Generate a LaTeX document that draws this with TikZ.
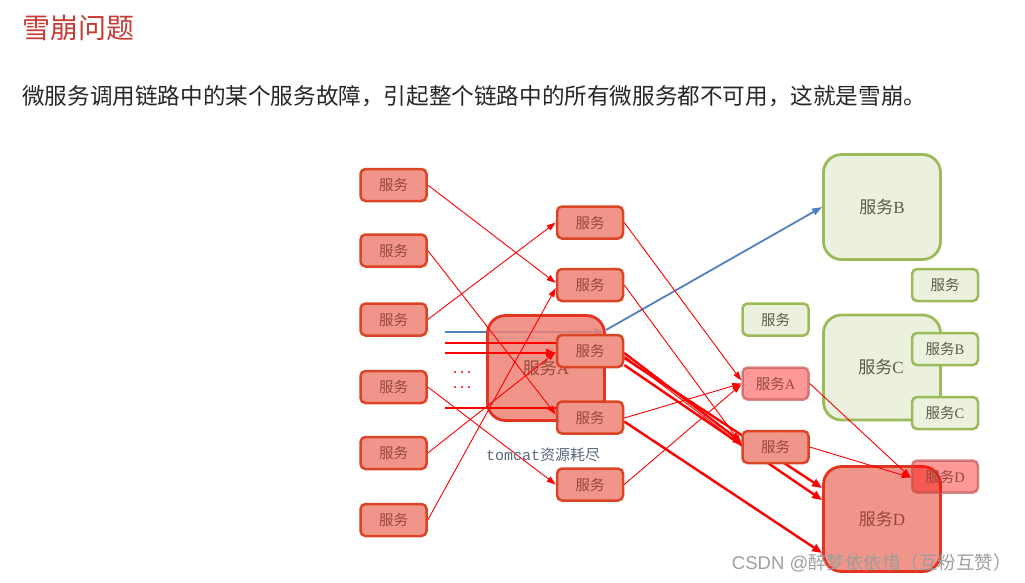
\documentclass[tikz,border=0pt]{standalone}
\usepackage{fontspec}
\setmainfont{Liberation Serif}
\newfontfamily\cjk{Noto Sans CJK SC}
\newfontfamily\wmsans{Liberation Sans}
\usetikzlibrary{arrows.meta,calc}
\definecolor{rf}{RGB}{241,148,138}
\definecolor{rfa}{RGB}{238,129,117}
\definecolor{rb}{RGB}{218,69,37}
\definecolor{rbig}{RGB}{228,52,32}
\definecolor{rt}{RGB}{150,72,58}
\definecolor{gf}{RGB}{235,241,222}
\definecolor{gb}{RGB}{155,187,89}
\definecolor{gt}{RGB}{88,92,72}
\definecolor{pb}{RGB}{192,80,77}
\definecolor{bl}{RGB}{79,129,189}
\definecolor{titlec}{RGB}{200,58,52}
\definecolor{tomc}{RGB}{88,104,124}
\pgfdeclarelayer{l0}\pgfdeclarelayer{l1}\pgfdeclarelayer{l2}\pgfdeclarelayer{l4}
\pgfsetlayers{l0,l1,l2,main,l4}
\tikzset{
  smallfont/.style={font=\fontsize{14.5}{16}\selectfont},
  bigfont/.style={font=\fontsize{17}{20}\selectfont},
  redbox/.style={draw=rb, fill=rf, line width=2.5pt, rounded corners=5pt,
    minimum width=66pt, minimum height=32pt, inner sep=0pt, text=rt, smallfont},
  pinkbox/.style={draw=pb, draw opacity=0.65, fill=red, fill opacity=0.4, text opacity=1,
    line width=2.5pt, rounded corners=5pt, minimum width=66pt, minimum height=32pt,
    inner sep=0pt, text=rt, smallfont},
  greenbox/.style={draw=gb, fill=gf, line width=2.5pt, rounded corners=5pt,
    minimum width=66pt, minimum height=32pt, inner sep=0pt, text=gt, smallfont},
  biggreen/.style={draw=gb, fill=gf, line width=2.8pt, rounded corners=18pt,
    minimum width=117pt, minimum height=105pt, inner sep=0pt, text=gt, bigfont},
  bigred/.style={draw=rbig, fill=rf, line width=2.8pt, rounded corners=18pt,
    minimum width=117pt, minimum height=105pt, inner sep=0pt, text=rt, bigfont},
  thin/.style={draw=red, line width=0.9pt, -{Triangle[length=9pt,width=6pt]}},
  thick/.style={draw=red, line width=2.4pt, -{Triangle[length=10pt,width=8pt]}},
  thicknoarrow/.style={draw=red, line width=2.4pt},
  bluearrow/.style={draw=bl, line width=1.8pt, -{Triangle[length=10pt,width=7pt]}}
}
\begin{document}
\begin{tikzpicture}[x=1pt,y=-1pt]
\useasboundingbox (0,0) rectangle (1025,582);

% texts
\node[anchor=west, inner sep=0pt, text=titlec, font=\cjk\fontsize{28}{30}\selectfont] (title) at (22,28) {雪崩问题};
\node[anchor=west, inner sep=0pt, text=black!85, font=\cjk\fontsize{22.6}{26}\selectfont] (sub) at (22,96)
  {微服务调用链路中的某个服务故障，引起整个链路中的所有微服务都不可用，这就是雪崩。};

% left column
\node[redbox] (L1) at (393.5,185) {\cjk 服务};
\node[redbox] (L2) at (393.5,250.5) {\cjk 服务};
\node[redbox] (L3) at (393.5,319.5) {\cjk 服务};
\node[redbox] (L4) at (393.5,387) {\cjk 服务};
\node[redbox] (L5) at (393.5,453) {\cjk 服务};
\node[redbox] (L6) at (393.5,520) {\cjk 服务};

% big A
\begin{pgfonlayer}{l1}
\node[bigred, fill=rfa, fill opacity=0.85, text opacity=1] (A) at (546,368) {{\cjk 服务}A};
\end{pgfonlayer}

% middle column
\node[redbox] (M1) at (590,222.5) {\cjk 服务};
\node[redbox] (M2) at (590,285) {\cjk 服务};
\node[redbox] (M3) at (590,351) {\cjk 服务};
\node[redbox] (M4) at (590,417.5) {\cjk 服务};
\node[redbox] (M5) at (590,484.5) {\cjk 服务};

\node[inner sep=0pt, text=tomc, font=\fontsize{15}{17}\selectfont] (tom) at (543,455)
  {\fontspec{Liberation Mono}tomcat{\cjk 资源耗尽}};

% right side
\node[biggreen] (B) at (882,207) {{\cjk 服务}B};
\node[greenbox] (G1) at (945,285) {\cjk 服务};
\node[greenbox] (G2) at (775.5,319.5) {\cjk 服务};
\node[biggreen] (C) at (882,367.5) {\hspace*{-2pt}{\cjk 服务}C};
\node[greenbox] (CB) at (945,349) {{\cjk 服务}B};
\node[greenbox] (CC) at (945,413) {{\cjk 服务}C};
\node[pinkbox] (RA) at (775.5,383.5) {{\cjk 服务}A};
\node[redbox] (R) at (775.5,447) {\cjk 服务};
\node[bigred] (D) at (882,519) {{\cjk 服务}D};
\begin{pgfonlayer}{l4}
\node[pinkbox] (DS) at (945,476.5) {{\cjk 服务}D};
\draw[thin] (RA.east) -- ([yshift=-1pt]DS.west);
\draw[thin] (R.east) -- ([yshift=-1pt]DS.west);
\node[anchor=east, inner sep=0pt, text=black!38, font=\fontsize{18.5}{20}\selectfont] (wm) at (1012,563)
  {{\wmsans CSDN @}{\cjk 醉梦依依惜（互粉互赞）}};
\end{pgfonlayer}

% free ends of the horizontal lines
\coordinate (h0) at (445,332);
\coordinate (h1) at (445,343);
\coordinate (h2) at (445,353);
\coordinate (h3) at (445,408);
\coordinate (bA) at (604,332);
\coordinate (bS) at (606,330);

\begin{pgfonlayer}{l0}
\draw[bluearrow] (h0) -- (bA);
\end{pgfonlayer}

\begin{pgfonlayer}{l2}
% dots
\foreach \dx in {455,462,469}{
  \fill[red] (\dx,372) circle (1.2);
  \fill[red] (\dx,387) circle (1.2);
}
% horizontal red lines
\draw[thicknoarrow] (h1) -- ([yshift=8pt]M3.west);
\draw[thick] (h2) -- ([yshift=-2pt]M3.west);
\draw[thicknoarrow] (h3) -- ([yshift=9.5pt]M4.west);
% blue diagonal
\draw[bluearrow] (bS) -- (B.west);
% left to middle
\draw[thin] (L1.east) -- ([yshift=2pt]M2.west);
\draw[thin] (L2.east) -- ([yshift=3pt]M4.west);
\draw[thin] (L3.east) -- (M1.west);
\draw[thin] (L4.east) -- (M5.west);
\draw[thin] (L5.east) -- ([yshift=-1pt]M3.west);
\draw[thin] (L6.east) -- ([yshift=-3pt]M2.west);
% middle to right
\draw[thin] (M1.east) -- ([yshift=3pt]RA.west);
\draw[thin] (M2.east) -- ([yshift=3pt]R.west);
\draw[thin] ([yshift=-0.5pt]M4.east) -- (RA.west);
\draw[thin] (M5.east) -- ([yshift=-1pt]RA.west);
\draw[thick] ([yshift=-2pt]M3.east) -- ([yshift=5pt]R.west);
\draw[thin] ([yshift=-5pt]M3.east) -- ([yshift=2pt]R.west);
\draw[thick] ([yshift=-7pt]M3.east) -- ([yshift=31pt]D.west);
\draw[thick] ([yshift=-14pt]M3.east) -- ([yshift=19pt]D.west);
\draw[thick] ([yshift=-4pt]M4.east) -- ([yshift=-34pt]D.west);
\end{pgfonlayer}
\end{tikzpicture}
\end{document}
